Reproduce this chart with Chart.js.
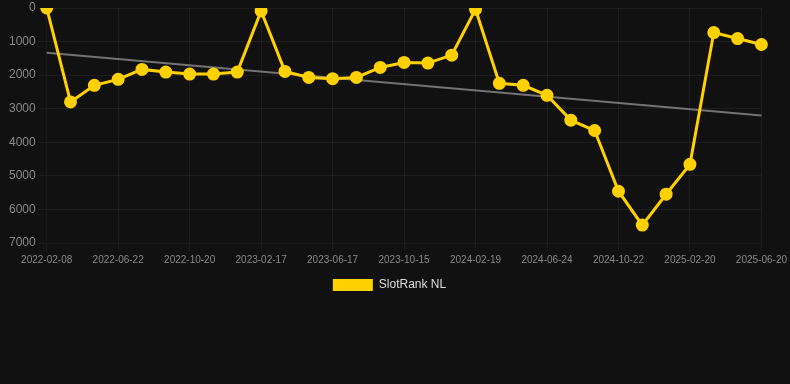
<!DOCTYPE html>
<html>
<head>
<meta charset="utf-8">
<script src="https://cdn.jsdelivr.net/npm/chart.js@4.4.0/dist/chart.umd.min.js"></script>
<style>
  html, body { margin: 0; padding: 0; background: #111111; }
  #wrap { width: 790px; height: 301px; position: relative; }
</style>
</head>
<body>
<div id="wrap"><canvas id="chart"></canvas></div>
<script>
const dates = [
  '2022-02-08', '2022-03-24', '2022-05-08', '2022-06-22', '2022-08-06', '2022-09-20',
  '2022-10-20', '2022-12-08', '2023-01-02', '2023-02-17', '2023-03-28', '2023-05-07',
  '2023-06-17', '2023-07-28', '2023-09-05', '2023-10-15', '2023-11-27', '2024-01-08',
  '2024-02-19', '2024-03-31', '2024-05-12', '2024-06-24', '2024-08-05', '2024-09-13',
  '2024-10-22', '2024-12-02', '2025-01-10', '2025-02-20', '2025-04-01', '2025-05-11',
  '2025-06-20'
];

const rank = [
  0, 2798, 2304, 2126, 1829, 1908, 1968, 1968, 1908, 89,
  1889, 2067, 2106, 2067, 1770, 1622, 1641, 1404, 40, 2244,
  2304, 2600, 3340, 3649, 5458, 6467, 5547, 4657, 732, 910,
  1088
];

// trend line: only the two ends are given, the gap is spanned
const trendStart = 1335;
const trendEnd = 3204;
const trend = dates.map((d, i) => i === 0 ? trendStart : (i === dates.length - 1 ? trendEnd : null));

const ctx = document.getElementById('chart').getContext('2d');
new Chart(ctx, {
  type: 'line',
  data: {
    labels: dates,
    datasets: [
      {
        label: 'SlotRank NL',
        data: rank,
        borderColor: '#FFD100',
        backgroundColor: '#FFD100',
        borderWidth: 3,
        pointRadius: 5,
        pointBackgroundColor: '#FFD100',
        pointBorderColor: '#FFD100',
        tension: 0,
        order: 1
      },
      {
        label: 'trend',
        data: trend,
        borderColor: 'rgba(140, 140, 140, 0.8)',
        borderWidth: 2,
        pointRadius: 0,
        spanGaps: true,
        fill: false,
        order: 2
      }
    ]
  },
  options: {
    responsive: true,
    maintainAspectRatio: false,
    animation: false,
    layout: { padding: { left: 6, right: 17, top: 0, bottom: 0 } },
    plugins: {
      legend: {
        position: 'bottom',
        labels: {
          color: '#dddddd',
          font: { family: 'Arial, "Liberation Sans", sans-serif', size: 12 },
          boxWidth: 40,
          boxHeight: 12,
          filter: item => item.text !== 'trend',
          generateLabels: chart => {
            const items = Chart.defaults.plugins.legend.labels.generateLabels(chart);
            items.forEach(it => { it.lineWidth = 0; });
            return items;
          }
        }
      },
      tooltip: { enabled: false }
    },
    scales: {
      x: {
        grid: { color: 'rgba(255, 255, 255, 0.05)' },
        ticks: {
          color: '#888888',
          font: { family: 'Arial, "Liberation Sans", sans-serif', size: 10 },
          maxRotation: 0,
          autoSkip: true,
          maxTicksLimit: 11
        }
      },
      y: {
        reverse: true,
        min: 0,
        max: 7000,
        grid: { color: 'rgba(255, 255, 255, 0.05)' },
        ticks: {
          color: '#888888',
          stepSize: 1000,
          font: { family: 'Arial, "Liberation Sans", sans-serif', size: 12, lineHeight: 0.7 },
          callback: v => String(v)
        }
      }
    }
  }
});
</script>
</body>
</html>
